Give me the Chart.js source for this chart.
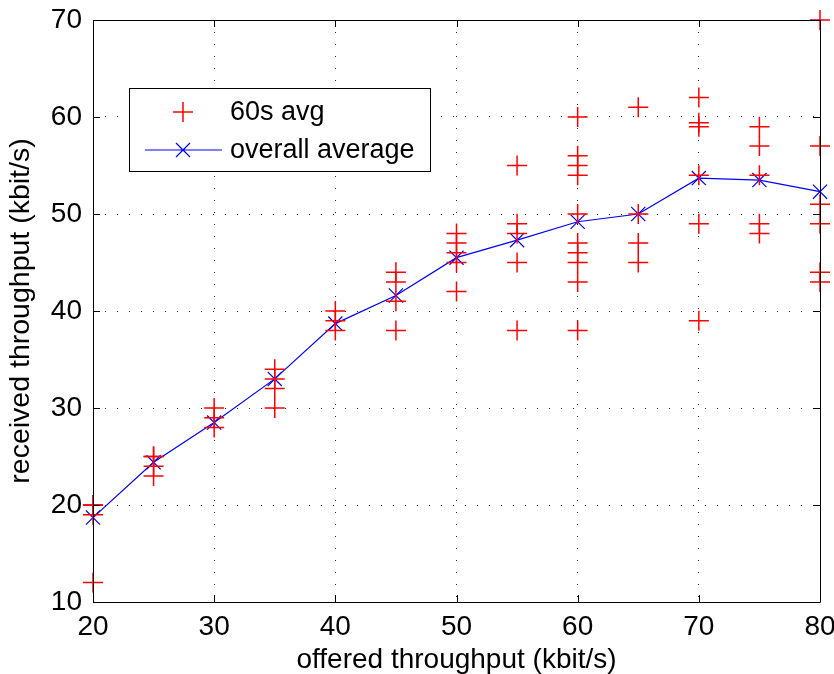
<!DOCTYPE html>
<html>
<head>
<meta charset="utf-8">
<script src="https://cdn.jsdelivr.net/npm/chart.js@4/dist/chart.umd.min.js"></script>
<style>
html,body{margin:0;padding:0;background:#fff;}
#c{display:block;}
</style>
</head>
<body>
<canvas id="c" width="834" height="674"></canvas>
<script>
// ---- data ----
const offered = [20, 25, 30, 35, 40, 45, 50, 55, 60, 65, 70, 75, 80];
const samples60s = [
  [20, 20, 19, 12],
  [25, 25, 24, 23],
  [30, 29, 28],
  [34, 33, 32, 30],
  [40, 39, 38],
  [44, 43, 41, 38],
  [48, 47, 46, 45, 42],
  [55, 49, 48, 45, 38],
  [60, 56, 55, 54, 50, 47, 46, 45, 43, 38],
  [61, 50, 47, 45],
  [62, 59.4, 59, 54, 49, 39],
  [59, 57, 54, 49, 48],
  [70, 57, 51, 49, 44, 43]
];
const overallAverage = [18.7, 24.4, 28.5, 33.0, 38.7, 41.6, 45.5, 47.3, 49.2, 50.0, 53.7, 53.5, 52.3];
const xTicks = [20, 30, 40, 50, 60, 70, 80];
const yTicks = [10, 20, 30, 40, 50, 60, 70];
const seriesNames = ['60s avg', 'overall average'];
const xTitle = 'offered throughput (kbit/s)';
const yTitle = 'received throughput (kbit/s)';

const FONT = '"Liberation Sans", Arial, Helvetica, sans-serif';

const scatterPts = [];
offered.forEach((x, i) => samples60s[i].forEach(v => scatterPts.push({x: x, y: v})));
const avgPts = offered.map((x, i) => ({x: x, y: overallAverage[i]}));

const framePlugin = {
  id: 'frame',
  afterDatasetsDraw(chart) {
    const ctx = chart.ctx;
    const a = chart.chartArea;
    const xs = chart.scales.x, ys = chart.scales.y;
    ctx.save();
    ctx.strokeStyle = '#000';
    ctx.lineWidth = 1;
    ctx.beginPath();
    ctx.rect(Math.round(a.left) + 0.5, Math.round(a.top) + 0.5, Math.round(a.right - a.left), Math.round(a.bottom - a.top));
    ctx.stroke();
    const L = 7;
    ctx.beginPath();
    xTicks.forEach(t => {
      const px = Math.round(xs.getPixelForValue(t)) + 0.5;
      ctx.moveTo(px, a.bottom); ctx.lineTo(px, a.bottom - L);
      ctx.moveTo(px, a.top); ctx.lineTo(px, a.top + L);
    });
    yTicks.forEach(t => {
      const py = Math.round(ys.getPixelForValue(t)) + 0.5;
      ctx.moveTo(a.left, py); ctx.lineTo(a.left + L, py);
      ctx.moveTo(a.right, py); ctx.lineTo(a.right - L, py);
    });
    ctx.stroke();

    // legend
    const bx = 129.5, by = 88.5, bw = 301, bh = 83;
    ctx.fillStyle = '#fff';
    ctx.fillRect(bx, by, bw, bh);
    ctx.strokeStyle = '#000';
    ctx.lineWidth = 1;
    ctx.strokeRect(bx, by, bw, bh);
    const r1 = 112, r2 = 150, mx = 183;
    ctx.strokeStyle = '#ff0000';
    ctx.lineWidth = 1.5;
    ctx.beginPath();
    ctx.moveTo(mx - 10, r1); ctx.lineTo(mx + 10, r1);
    ctx.moveTo(mx, r1 - 10); ctx.lineTo(mx, r1 + 10);
    ctx.stroke();
    ctx.strokeStyle = '#0000ff';
    ctx.lineWidth = 1.2;
    ctx.beginPath();
    ctx.moveTo(145, r2); ctx.lineTo(222, r2);
    const d = 7;
    ctx.moveTo(mx - d, r2 - d); ctx.lineTo(mx + d, r2 + d);
    ctx.moveTo(mx - d, r2 + d); ctx.lineTo(mx + d, r2 - d);
    ctx.stroke();
    ctx.fillStyle = '#000';
    ctx.font = '27px ' + FONT;
    ctx.textAlign = 'left';
    ctx.textBaseline = 'middle';
    ctx.fillText(seriesNames[0], 230, r1 + 1);
    ctx.fillText(seriesNames[1], 230, r2 + 1);
    ctx.restore();
  }
};

new Chart(document.getElementById('c'), {
  type: 'scatter',
  data: {
    datasets: [
      {
        label: seriesNames[0],
        data: scatterPts,
        showLine: false,
        pointStyle: 'cross',
        pointRadius: 10,
        pointHoverRadius: 10,
        borderColor: '#ff0000',
        backgroundColor: '#ff0000',
        pointBorderWidth: 1.5,
        clip: false
      },
      {
        label: seriesNames[1],
        data: avgPts,
        showLine: true,
        tension: 0,
        pointStyle: 'crossRot',
        pointRadius: 10,
        pointHoverRadius: 10,
        borderColor: '#0000ff',
        backgroundColor: '#0000ff',
        borderWidth: 1.2,
        pointBorderWidth: 1.2,
        clip: false
      }
    ]
  },
  options: {
    responsive: false,
    animation: false,
    devicePixelRatio: 1,
    layout: { padding: { top: 20, right: 14, left: 0, bottom: 0 } },
    plugins: { legend: { display: false }, tooltip: { enabled: false } },
    scales: {
      x: {
        type: 'linear',
        min: 20, max: 80,
        afterBuildTicks: s => { s.ticks = xTicks.map(v => ({value: v})); },
        afterFit: s => { s.height = 72; s.paddingLeft = 0; s.paddingRight = 0; s.paddingTop = 0; s.paddingBottom = 0; },
        grid: { color: '#222', lineWidth: 1, drawTicks: false },
        border: { display: false, dash: [1, 11] },
        ticks: { color: '#000', font: { family: FONT, size: 28 }, padding: 8, maxRotation: 0 },
        title: { display: true, text: xTitle, color: '#000', font: { family: FONT, size: 28, lineHeight: 1 }, padding: 0 }
      },
      y: {
        type: 'linear',
        min: 10, max: 70,
        afterBuildTicks: s => { s.ticks = yTicks.map(v => ({value: v})); },
        afterFit: s => { s.width = 93; s.paddingLeft = 0; s.paddingRight = 0; s.paddingTop = 0; s.paddingBottom = 0; },
        grid: { color: '#222', lineWidth: 1, drawTicks: false },
        border: { display: false, dash: [1, 11] },
        ticks: { color: '#000', font: { family: FONT, size: 28 }, padding: 11 },
        title: { display: true, text: yTitle, color: '#000', font: { family: FONT, size: 28.5, lineHeight: 1 }, padding: { top: 7, bottom: 0 } }
      }
    }
  },
  plugins: [framePlugin]
});
</script>
</body>
</html>
